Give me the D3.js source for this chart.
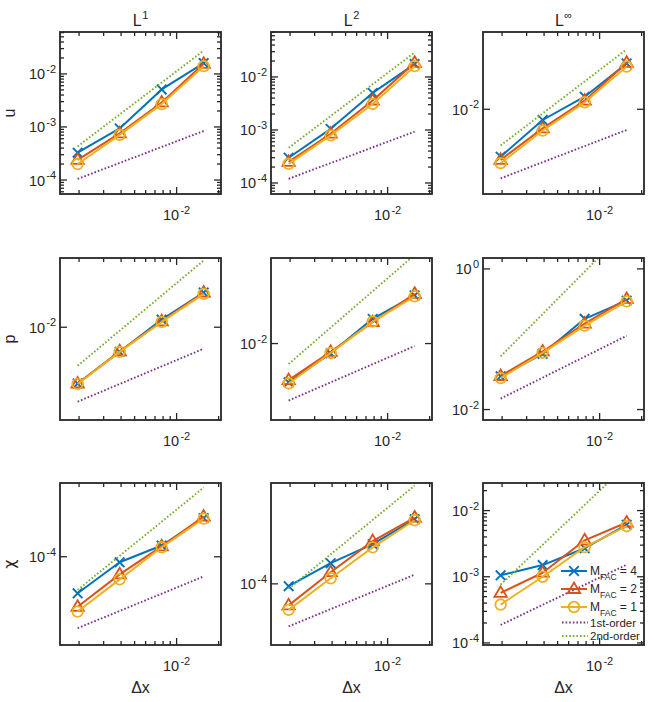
<!DOCTYPE html>
<html><head><meta charset="utf-8">
<script src="https://cdn.jsdelivr.net/npm/d3@7/dist/d3.min.js"></script>
<style>
body{margin:0;background:#fff}
svg{display:block;font-family:"Liberation Sans",Arial,Helvetica,sans-serif}
</style>
</head><body>
<svg id="chart" width="654" height="702"></svg>
<script>
// ---------------- data ----------------
const dx = [1/512, 1/256, 1/128, 1/64];
const refDx = [1/512, 1/64];
const xLim = [1.46e-3, 2.08e-2];
const xTicks = [1e-2];
const norms = ["1", "2", "\u221E"];
const variables = ["u", "p", "\u03C7"];
const seriesNames = ["4", "2", "1"];
const refNames = ["1st-order", "2nd-order"];

// u : [L1, L2, Linf]
const uM4 = [[3.27e-4, 9.4e-4, 5.1e-3, 1.6e-2], [3.0e-4, 1.05e-3, 5.0e-3, 1.75e-2], [1.3e-3, 6.3e-3, 1.72e-2, 7.2e-2]];
const uM2 = [[2.4e-4, 7.6e-4, 2.9e-3, 1.55e-2], [2.5e-4, 8.5e-4, 3.6e-3, 1.85e-2], [1.13e-3, 4.4e-3, 1.45e-2, 7.4e-2]];
const uM1 = [[2.0e-4, 7.1e-4, 2.7e-3, 1.4e-2], [2.3e-4, 7.9e-4, 3.1e-3, 1.6e-2], [9.8e-4, 4.0e-3, 1.35e-2, 6.3e-2]];
const uFirst = [[1.05e-4, 8.4e-4], [1.2e-4, 9.3e-4], [5.1e-4, 4.1e-3]];
const uSecond = [[4.3e-4, 2.75e-2], [4.6e-4, 2.9e-2], [2.1e-3, 1.32e-1]];
const uYLim = [[5.45e-5, 6.17e-2], [6.2e-5, 7.05e-2], [2.6e-4, 0.279]];
const uYTicks = [[1e-4, 1e-3, 1e-2], [1e-4, 1e-3, 1e-2], [1e-2]];
const uYMinor = [true, true, false];

// p
const pM4 = [[1.1e-3, 3.8e-3, 1.35e-2, 3.9e-2], [2.3e-3, 6.9e-3, 2.55e-2, 6.2e-2], [2.97e-2, 6.2e-2, 0.195, 0.354]];
const pM2 = [[1.1e-3, 3.9e-3, 1.26e-2, 3.9e-2], [2.5e-3, 7.3e-3, 2.25e-2, 6.6e-2], [3.0e-2, 6.7e-2, 0.167, 0.374]];
const pM1 = [[1.08e-3, 3.8e-3, 1.23e-2, 3.7e-2], [2.2e-3, 7.0e-3, 2.3e-2, 6.0e-2], [2.8e-2, 6.4e-2, 0.156, 0.346]];
const pFirst = [[5.4e-4, 4.3e-3], [1.15e-3, 9.1e-3], [1.43e-2, 0.112]];
const pSecond = [[2.2e-3, 0.137], [4.6e-3, 0.29], [5.7e-2, 3.65]];
const pYLim = [[2.63e-4, 0.151], [5.5e-4, 0.257], [7.1e-3, 1.43]];
const pYTicks = [[1e-2], [1e-2], [1e-2, 1e0]];
const pYMinor = [false, false, false];

// chi
const chiM4 = [[2.27e-5, 8.0e-5, 1.58e-4, 4.8e-4], [9.1e-5, 2.3e-4, 4.95e-4, 1.35e-3], [1.05e-3, 1.5e-3, 2.7e-3, 6.1e-3]];
const chiM2 = [[1.31e-5, 4.9e-5, 1.53e-4, 5.1e-4], [4.2e-5, 1.6e-4, 5.6e-4, 1.45e-3], [5.7e-4, 1.15e-3, 3.55e-3, 6.6e-3]];
const chiM1 = [[1.08e-5, 4.0e-5, 1.47e-4, 4.7e-4], [3.5e-5, 1.25e-4, 4.35e-4, 1.3e-3], [3.8e-4, 1.0e-3, 2.8e-3, 5.8e-3]];
const chiFirst = [[5.5e-6, 4.5e-5], [1.8e-5, 1.45e-4], [1.87e-4, 1.52e-3]];
const chiSecond = [[2.6e-5, 1.66e-3], [8.2e-5, 5.25e-3], [7.6e-4, 4.86e-2]];
const chiYLim = [[2.78e-6, 2.0e-3], [8.5e-6, 5.83e-3], [9.3e-5, 2.61e-2]];
const chiYTicks = [[1e-4], [1e-4], [1e-4, 1e-3, 1e-2]];
const chiYMinor = [false, false, true];

// ---------------- styles ----------------
const colors = ["#0072BD", "#D95319", "#EDB120"];
const refColors = ["#7E2F8E", "#77AC30"];
const markers = ["x", "tri", "circ"];
const axisColor = "#262626";

const rows = [
  {m: [uM4, uM2, uM1], ref: [uFirst, uSecond], ylim: uYLim, ticks: uYTicks, minor: uYMinor},
  {m: [pM4, pM2, pM1], ref: [pFirst, pSecond], ylim: pYLim, ticks: pYTicks, minor: pYMinor},
  {m: [chiM4, chiM2, chiM1], ref: [chiFirst, chiSecond], ylim: chiYLim, ticks: chiYTicks, minor: chiYMinor}
];

const colX = [60, 271, 483];
const rowY = [32, 258, 483];
const W = 161, H = 162;
const majorLen = 7, minorLen = 4;

const svg = d3.select("#chart");
const defs = svg.append("defs");

function minorTicks(domain) {
  const out = [];
  const k0 = Math.floor(Math.log10(domain[0])), k1 = Math.ceil(Math.log10(domain[1]));
  for (let k = k0; k <= k1; k++) {
    for (let m = 2; m <= 9; m++) {
      const v = m * Math.pow(10, k);
      if (v > domain[0] && v < domain[1]) out.push(v);
    }
  }
  return out;
}

function powLabel(sel, v, baseSize, expSize) {
  const e = Math.round(Math.log10(v));
  sel.append("tspan").attr("font-size", baseSize).text("10");
  sel.append("tspan").attr("font-size", expSize).attr("dy", -6.5).attr("dx", 1.2).text(String(e));
}

function drawMarker(g, type, cx, cy, color) {
  if (type === "x") {
    const s = 4.8;
    g.append("path").attr("d", `M${cx - s},${cy - s}L${cx + s},${cy + s}M${cx - s},${cy + s}L${cx + s},${cy - s}`)
      .attr("stroke", color).attr("stroke-width", 1.9).attr("fill", "none");
  } else if (type === "tri") {
    const w = 6.2, h = 10.5;
    g.append("path").attr("d", `M${cx},${cy - h * 0.62}L${cx + w},${cy + h * 0.38}L${cx - w},${cy + h * 0.38}Z`)
      .attr("stroke", color).attr("stroke-width", 1.8).attr("fill", "none").attr("stroke-linejoin", "miter");
  } else {
    g.append("circle").attr("cx", cx).attr("cy", cy).attr("r", 5.3)
      .attr("stroke", color).attr("stroke-width", 1.8).attr("fill", "none");
  }
}

rows.forEach((row, ri) => {
  norms.forEach((nrm, ci) => {
    const left = colX[ci], top = rowY[ri];
    const x = d3.scaleLog().domain(xLim).range([left, left + W]);
    const y = d3.scaleLog().domain(row.ylim[ci]).range([top + H, top]);
    const g = svg.append("g");
    const clipId = `clip-${ri}-${ci}`;
    defs.append("clipPath").attr("id", clipId)
      .append("rect").attr("x", left).attr("y", top).attr("width", W).attr("height", H);

    const line = d3.line().x(d => x(d[0])).y(d => y(d[1]));

    // data series
    const plot = g.append("g");
    row.m.forEach((ser, si) => {
      const vals = ser[ci];
      const pts = dx.map((d, i) => [d, vals[i]]);
      plot.append("path").attr("d", line(pts)).attr("clip-path", `url(#${clipId})`)
        .attr("fill", "none").attr("stroke", colors[si]).attr("stroke-width", 2).attr("stroke-linejoin", "round");
      pts.forEach(p => drawMarker(plot, markers[si], x(p[0]), y(p[1]), colors[si]));
    });
    // reference lines
    row.ref.forEach((ref, k) => {
      const vals = ref[ci];
      const pts = refDx.map((d, i) => [d, vals[i]]);
      plot.append("path").attr("d", line(pts)).attr("clip-path", `url(#${clipId})`)
        .attr("fill", "none").attr("stroke", refColors[k]).attr("stroke-width", 1.9)
        .attr("stroke-dasharray", "1.6,2.0");
    });

    // frame
    g.append("rect").attr("x", left).attr("y", top).attr("width", W).attr("height", H)
      .attr("fill", "none").attr("stroke", axisColor).attr("stroke-width", 1.8);

    const tk = g.append("g").attr("stroke", axisColor).attr("stroke-width", 1.3);
    // x ticks
    minorTicks(xLim).forEach(v => {
      const px = x(v);
      tk.append("line").attr("x1", px).attr("x2", px).attr("y1", top + H).attr("y2", top + H - minorLen);
      tk.append("line").attr("x1", px).attr("x2", px).attr("y1", top).attr("y2", top + minorLen);
    });
    xTicks.forEach(v => {
      const px = x(v);
      tk.append("line").attr("x1", px).attr("x2", px).attr("y1", top + H).attr("y2", top + H - majorLen);
      tk.append("line").attr("x1", px).attr("x2", px).attr("y1", top).attr("y2", top + majorLen);
      const t = g.append("text").attr("x", px).attr("y", top + H + 26).attr("text-anchor", "middle")
        .attr("fill", axisColor);
      powLabel(t, v, 14.5, 11);
    });
    // y ticks
    if (row.minor[ci]) {
      minorTicks(row.ylim[ci]).forEach(v => {
        const py = y(v);
        tk.append("line").attr("x1", left).attr("x2", left + minorLen).attr("y1", py).attr("y2", py);
        tk.append("line").attr("x1", left + W).attr("x2", left + W - minorLen).attr("y1", py).attr("y2", py);
      });
    }
    row.ticks[ci].forEach(v => {
      const py = y(v);
      tk.append("line").attr("x1", left).attr("x2", left + majorLen).attr("y1", py).attr("y2", py);
      tk.append("line").attr("x1", left + W).attr("x2", left + W - majorLen).attr("y1", py).attr("y2", py);
      const t = g.append("text").attr("x", left - 4).attr("y", py + 5.5).attr("text-anchor", "end")
        .attr("fill", axisColor);
      powLabel(t, v, 14.5, 11);
    });

    // column titles
    if (ri === 0) {
      const t = svg.append("text").attr("x", left + W / 2).attr("y", 26).attr("text-anchor", "middle")
        .attr("fill", axisColor);
      t.append("tspan").attr("font-size", 16).text("L");
      t.append("tspan").attr("font-size", 11).attr("dy", -7.5).attr("dx", 0.5).text(nrm);
    }
    // row labels
    if (ci === 0) {
      svg.append("text").attr("transform", `translate(15,${top + H / 2}) rotate(-90)`)
        .attr("text-anchor", "middle").attr("font-size", 16).attr("fill", axisColor)
        .style("font-family", ri === 2 ? "'DejaVu Sans', sans-serif" : null)
        .text(variables[ri]);
    }
    // x label
    if (ri === 2) {
      svg.append("text").attr("x", left + W / 2).attr("y", 693).attr("text-anchor", "middle")
        .attr("font-size", 16).attr("fill", axisColor).text("\u0394x");
    }
    // legend
    if (ri === 2 && ci === 2) {
      const lg = svg.append("g");
      const lx0 = left + 78, lx1 = left + 104, tx = left + 107;
      const ys = [top + 88, top + 106, top + 124, top + 139.5, top + 153];
      seriesNames.forEach((nm, si) => {
        const yy = ys[si];
        lg.append("line").attr("x1", lx0).attr("x2", lx1).attr("y1", yy).attr("y2", yy)
          .attr("stroke", colors[si]).attr("stroke-width", 2);
        drawMarker(lg, markers[si], (lx0 + lx1) / 2, yy, colors[si]);
        const t = lg.append("text").attr("x", tx).attr("y", yy + 4).attr("fill", axisColor);
        t.append("tspan").attr("font-size", 12).text("M");
        t.append("tspan").attr("font-size", 8.5).attr("dy", 5).text("FAC");
        t.append("tspan").attr("font-size", 12).attr("dy", -5).text(" = " + nm);
      });
      refNames.forEach((nm, k) => {
        const yy = ys[3 + k];
        lg.append("line").attr("x1", lx0 + 1).attr("x2", lx1 + 1).attr("y1", yy).attr("y2", yy)
          .attr("stroke", refColors[k]).attr("stroke-width", 1.9).attr("stroke-dasharray", "1.6,2.0");
        lg.append("text").attr("x", tx).attr("y", yy + 4).attr("font-size", 11.5).attr("fill", axisColor).text(nm);
      });
    }
  });
});
</script>
</body></html>
